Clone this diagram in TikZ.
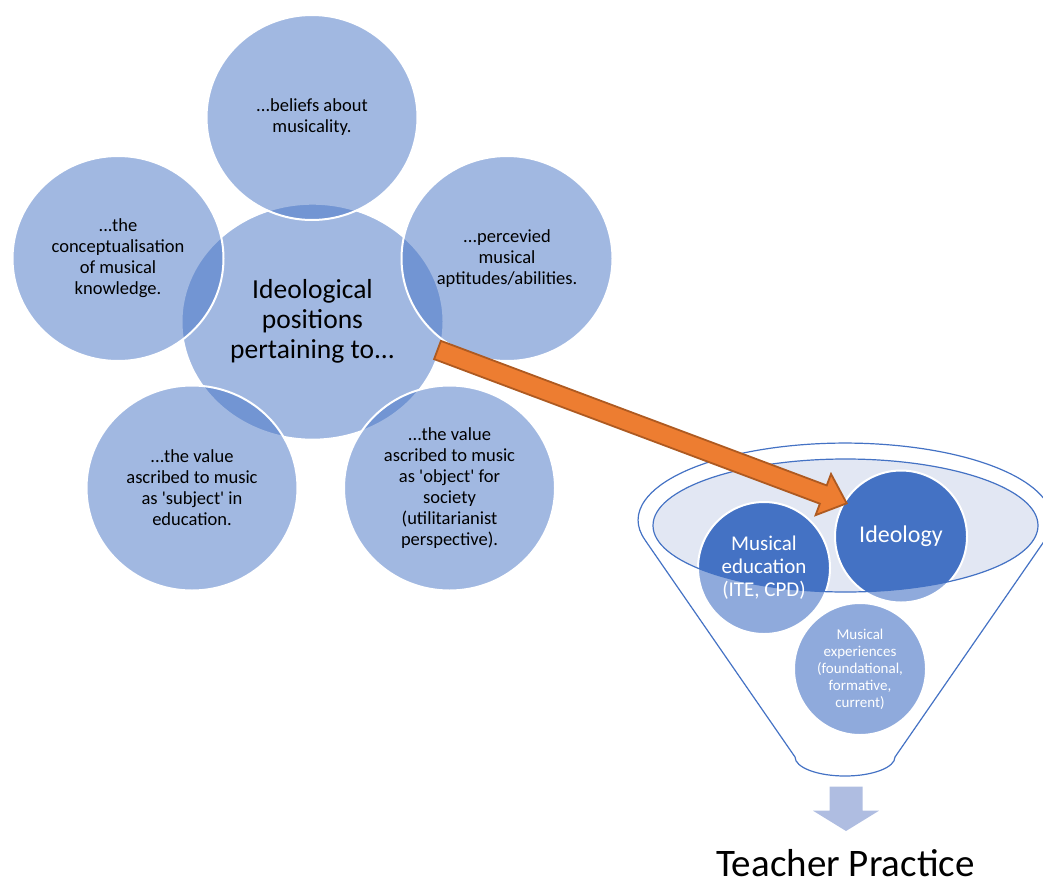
\documentclass[tikz,border=0pt]{standalone}
\usepackage{fontspec}
\setmainfont{Carlito}[Ligatures=TeXOff]
\definecolor{accent}{HTML}{4472C4}
\definecolor{accentlight}{HTML}{8FAADC}
\definecolor{lav}{RGB}{226,231,243}
\definecolor{orangefill}{HTML}{ED7D31}
\definecolor{orangeline}{HTML}{AE5A21}
\definecolor{downarrow}{RGB}{175,189,225}
\begin{document}
\begin{tikzpicture}[x=1pt,y=1pt,
  bubble/.style={fill=accent, fill opacity=0.5, draw=white, draw opacity=1, line width=2pt},
  bubtext/.style={align=center, font=\fontsize{18.5}{21}\selectfont, text=black, inner sep=0pt},
  centertext/.style={align=center, font=\fontsize{27.5}{30}\selectfont, text=black, inner sep=0pt},
  fcircle/.style={fill=accentlight},
  fcircledark/.style={fill=accent},
  fring/.style={draw=white, line width=2pt},
  fline/.style={draw=accent, line width=1.2pt},
  ftext/.style={align=center, text=white, inner sep=0pt}
]
\useasboundingbox (0,0) rectangle (1043,-883);

% ---------- radial bubbles ----------
\coordinate (c0) at (312.5,-321.7);
\coordinate (ctop) at (312,-117.5);
\coordinate (cleft) at (118,-258.5);
\coordinate (cright) at (507,-258.5);
\coordinate (cbl) at (192,-488);
\coordinate (cbr) at (449.5,-488);

\path[bubble] (c0) ellipse [x radius=131, y radius=118];
\path[bubble] (ctop) ellipse [x radius=105.5, y radius=102.5];
\path[bubble] (cleft) ellipse [x radius=105.5, y radius=102.5];
\path[bubble] (cright) ellipse [x radius=105.5, y radius=102.5];
\path[bubble] (cbl) ellipse [x radius=105.5, y radius=102.5];
\path[bubble] (cbr) ellipse [x radius=105.5, y radius=102.5];

\node[centertext] (tcenter) at (c0) {Ideological\\positions\\pertaining to...};
\node[bubtext] (ttop) at (ctop) {...beliefs about\\musicality.};
\node[bubtext] (tleft) at (cleft) {...the\\conceptualisation\\of musical\\knowledge.};
\node[bubtext] (tright) at (cright) {...percevied\\musical\\aptitudes/abilities.};
\node[bubtext] (tbl) at (cbl) {...the value\\ascribed to music\\as 'subject' in\\education.};
\node[bubtext] (tbr) at (cbr) {...the value\\ascribed to music\\as 'object' for\\society\\(utilitarianist\\perspective).};

% ---------- funnel ----------
\coordinate (fe) at (845.5,-525.5);
\coordinate (ideo) at (901,-536.5);
\coordinate (mused) at (764,-568);
\coordinate (musexp) at (860,-669);

\fill[lav] (fe) ellipse [x radius=192.5, y radius=66.5];
\fill[fcircle] (ideo) circle [radius=66];
\fill[fcircle] (mused) circle [radius=66];
\fill[fcircle] (musexp) circle [radius=66];
\begin{scope}
  \clip (fe) ellipse [x radius=192.5, y radius=66.5];
  \fill[fcircledark] (ideo) circle [radius=66];
  \fill[fcircledark] (mused) circle [radius=66];
\end{scope}
\draw[fring] (ideo) circle [radius=66];
\draw[fring] (mused) circle [radius=66];
\draw[fring] (musexp) circle [radius=66];
\draw[fline] (fe) ellipse [x radius=192.5, y radius=66.5];

\draw[fline, line join=round] (645,-540) -- (795,-757)
  arc [start angle=180, end angle=360, x radius=50, y radius=19]
  -- (1045,-540)
  arc [start angle=-15, end angle=195, x radius=207, y radius=77] -- cycle;

\node[ftext, font=\fontsize{24}{27}\selectfont] (tideo) at (ideo) {Ideology};
\node[ftext, font=\fontsize{21}{23}\selectfont] (tmused) at (mused) {Musical\\education\\(ITE, CPD)};
\node[ftext, font=\fontsize{15}{17}\selectfont] (tmusexp) at (musexp) {Musical\\experiences\\(foundational,\\formative,\\current)};

% ---------- orange block arrow ----------
\coordinate (astart) at (437.5,-350);
\coordinate (atip) at (846.7,-503.3);
\begin{scope}[shift={(astart)}, rotate=-20.54]
  \draw[fill=orangefill, draw=orangeline, line width=1.8pt, line join=miter]
    (0,9.75) -- (412,9.75) -- (412,22) -- (437,0) -- (412,-22) -- (412,-9.75) -- (0,-9.75) -- cycle;
\end{scope}

% ---------- down arrow and result ----------
\fill[downarrow] (829.5,-786.7) -- (862.5,-786.7) -- (862.5,-810.7) -- (879,-810.7)
  -- (846,-831) -- (813,-810.7) -- (829.5,-810.7) -- cycle;
\node[anchor=base, inner sep=0pt, font=\fontsize{39}{44}\selectfont] (tp) at (845.5,-876) {Teacher Practice};

\end{tikzpicture}
\end{document}
